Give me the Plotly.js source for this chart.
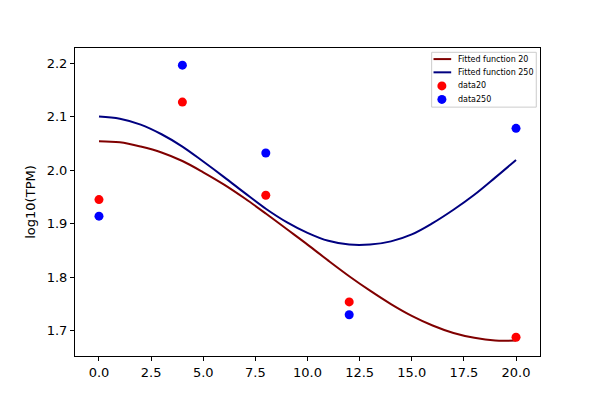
<!DOCTYPE html>
<html>
<head>
<meta charset="utf-8">
<script src="https://cdn.plot.ly/plotly-3.0.1.min.js"></script>
<style>html,body{margin:0;padding:0;background:#fff;}#chart{width:600px;height:400px;}</style>
</head>
<body>
<div id="chart"></div>
<script>
// Fitted curves
const fitX = [0,1,2,3,4,5,6,7,8,9,10,11,12,13,14,15,16,17,18,19,20];
const fit20 = [2.054,2.052,2.044,2.033,2.017,1.996,1.973,1.947,1.919,1.890,1.861,1.831,1.802,1.775,1.750,1.728,1.710,1.696,1.687,1.682,1.682];
const fit250 = [2.100,2.096,2.085,2.067,2.044,2.016,1.987,1.957,1.928,1.903,1.883,1.868,1.861,1.861,1.867,1.880,1.901,1.926,1.954,1.986,2.019];
// Data points
const dataX = [0,4,8,12,20];
const data20 = [1.945,2.127,1.953,1.754,1.688];
const data250 = [1.914,2.196,2.032,1.730,2.078];

const traces = [
  {x: fitX, y: fit20, type: 'scatter', mode: 'lines', name: 'Fitted function 20',
   line: {color: '#800000', width: 2, shape: 'spline'}},
  {x: fitX, y: fit250, type: 'scatter', mode: 'lines', name: 'Fitted function 250',
   line: {color: '#000080', width: 2, shape: 'spline'}},
  {x: dataX, y: data20, type: 'scatter', mode: 'markers', name: 'data20',
   marker: {color: '#ff0000', size: 9}},
  {x: dataX, y: data250, type: 'scatter', mode: 'markers', name: 'data250',
   marker: {color: '#0000ff', size: 9}}
];

// Compact matplotlib-style legend (paper coordinates), built from the traces
const legendBox = {x0: 0.767, x1: 0.992, y0: 0.808, y1: 0.986};
const legendRowsY = [0.964, 0.921, 0.877, 0.833];
const swatchX = [0.771, 0.809];
const dotX = 0.789;
const textX = 0.820;

const shapes = [{
  type: 'rect', xref: 'paper', yref: 'paper',
  x0: legendBox.x0, x1: legendBox.x1, y0: legendBox.y0, y1: legendBox.y1,
  line: {color: '#cccccc', width: 1}, fillcolor: 'rgba(255,255,255,0.8)', layer: 'above'
}];
const annotations = [];
traces.forEach((t, i) => {
  const yy = legendRowsY[i];
  if (t.mode === 'lines') {
    shapes.push({type: 'line', xref: 'paper', yref: 'paper',
      x0: swatchX[0], x1: swatchX[1], y0: yy, y1: yy,
      line: {color: t.line.color, width: 2}, layer: 'above'});
  } else {
    shapes.push({type: 'circle', xref: 'paper', yref: 'paper',
      xsizemode: 'pixel', ysizemode: 'pixel', xanchor: dotX, yanchor: yy,
      x0: -4.5, x1: 4.5, y0: -4.5, y1: 4.5,
      line: {width: 0}, fillcolor: t.marker.color, layer: 'above'});
  }
  annotations.push({xref: 'paper', yref: 'paper', x: textX, y: yy,
    xanchor: 'left', yanchor: 'middle', showarrow: false, text: t.name,
    font: {family: 'DejaVu Sans', size: 8, color: '#000'}});
});

const axisFont = {family: 'DejaVu Sans', size: 13, color: '#000'};
const layout = {
  width: 600, height: 400,
  margin: {l: 75, r: 60, t: 48, b: 44},
  paper_bgcolor: '#fff', plot_bgcolor: '#fff',
  showlegend: false,
  shapes: shapes,
  annotations: annotations,
  xaxis: {
    range: [-1.15, 21.15], tick0: 0, dtick: 2.5, tickformat: '.1f',
    showgrid: false, zeroline: false, showline: true, mirror: true,
    linecolor: '#000', linewidth: 1, ticks: 'outside', ticklen: 4, tickcolor: '#000',
    tickfont: axisFont
  },
  yaxis: {
    range: [1.653, 2.228], tick0: 1.7, dtick: 0.1, tickformat: '.1f',
    showgrid: false, zeroline: false, showline: true, mirror: true,
    linecolor: '#000', linewidth: 1, ticks: 'outside', ticklen: 4, tickcolor: '#000',
    tickfont: axisFont,
    title: {text: 'log10(TPM)', font: axisFont, standoff: 8}
  }
};

Plotly.newPlot('chart', traces, layout, {displayModeBar: false, staticPlot: true});
</script>
</body>
</html>
